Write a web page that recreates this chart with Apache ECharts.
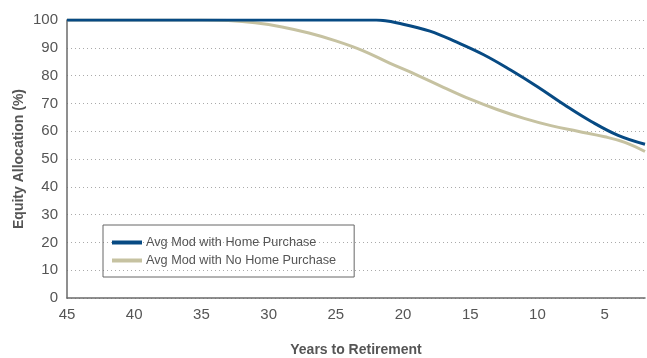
<!DOCTYPE html>
<html>
<head>
<meta charset="utf-8">
<script src="https://cdn.jsdelivr.net/npm/echarts@6/dist/echarts.min.js"></script>
<style>
  html, body { margin: 0; padding: 0; background: #fff; }
  #chart { width: 647px; height: 358px; }
</style>
</head>
<body>
<div id="chart"></div>
<script>
// Years to retirement (x) and equity allocation (%)
const homeYears = [45, 40, 35, 30, 25, 22, 20, 18, 16, 14, 12, 10, 8, 6, 4, 2];
const homeValues = [100, 100, 100, 100, 100, 100, 98.5, 96, 92, 87.5, 82, 76, 69.5, 63.5, 58.5, 55.3];

const noHomeYears = [45, 40, 35, 33, 31, 29, 27, 25, 23, 21, 19, 17, 15, 13, 11, 9, 7, 5, 3.5, 2];
const noHomeValues = [100, 100, 100, 99.8, 99, 97.5, 95.3, 92.5, 89, 84.5, 80.3, 75.8, 71.5, 67.8, 64.6, 62, 60, 58, 56, 52.7];

const seriesNames = ['Avg Mod with Home Purchase', 'Avg Mod with No Home Purchase'];
const seriesColors = ['#074a83', '#c6c2a1'];

const textColor = '#555';
const fontFamily = 'Liberation Sans, Arial, sans-serif';

// x axis runs 45 -> 2 left to right; plot on negative years so ticks start at 45
const toPoints = (years, values) => years.map((y, i) => [-y, values[i]]);

const chart = echarts.init(document.getElementById('chart'));

chart.setOption({
  animation: false,
  textStyle: { fontFamily },
  grid: { left: 67, right: 2, top: 20, bottom: 60, outerBoundsMode: 'none' },
  legend: {
    orient: 'vertical',
    left: 103,
    top: 225,
    padding: [11, 18, 10, 9],
    itemGap: 5,
    itemWidth: 30,
    itemHeight: 4,
    icon: 'rect',
    borderColor: '#666',
    borderWidth: 1,
    textStyle: { color: textColor, fontSize: 12.7, padding: [0, 0, 0, -1] },
    data: seriesNames,
  },
  xAxis: {
    type: 'value',
    min: -45,
    max: -2,
    interval: 5,
    name: 'Years to Retirement',
    nameLocation: 'middle',
    nameGap: 45,
    nameMoveOverlap: false,
    nameTextStyle: { color: textColor, fontSize: 14, fontWeight: 'bold' },
    axisLine: { show: true, lineStyle: { color: '#6a6a6a', width: 1.5 } },
    axisTick: { show: false },
    splitLine: { show: false },
    axisLabel: {
      color: textColor,
      fontSize: 15,
      margin: 9,
      showMaxLabel: false,
      formatter: (v) => String(Math.abs(v)),
    },
  },
  yAxis: {
    type: 'value',
    min: 0,
    max: 100,
    interval: 10,
    name: 'Equity Allocation (%)',
    nameLocation: 'middle',
    nameGap: 41,
    nameMoveOverlap: false,
    nameTextStyle: { color: textColor, fontSize: 14, fontWeight: 'bold' },
    axisLine: { show: true, lineStyle: { color: '#6a6a6a', width: 1.5 } },
    axisTick: { show: false },
    axisLabel: { color: textColor, fontSize: 15, margin: 9 },
    splitLine: { show: true, lineStyle: { color: '#aaa', type: [1, 3], width: 1 } },
  },
  series: [
    {
      name: seriesNames[1],
      type: 'line',
      smooth: 0.4,
      symbol: 'none',
      color: seriesColors[1],
      lineStyle: { width: 3, color: seriesColors[1] },
      data: toPoints(noHomeYears, noHomeValues),
      z: 2,
    },
    {
      name: seriesNames[0],
      type: 'line',
      smooth: 0.4,
      symbol: 'none',
      color: seriesColors[0],
      lineStyle: { width: 3, color: seriesColors[0] },
      data: toPoints(homeYears, homeValues),
      z: 3,
    },
  ],
});
</script>
</body>
</html>
